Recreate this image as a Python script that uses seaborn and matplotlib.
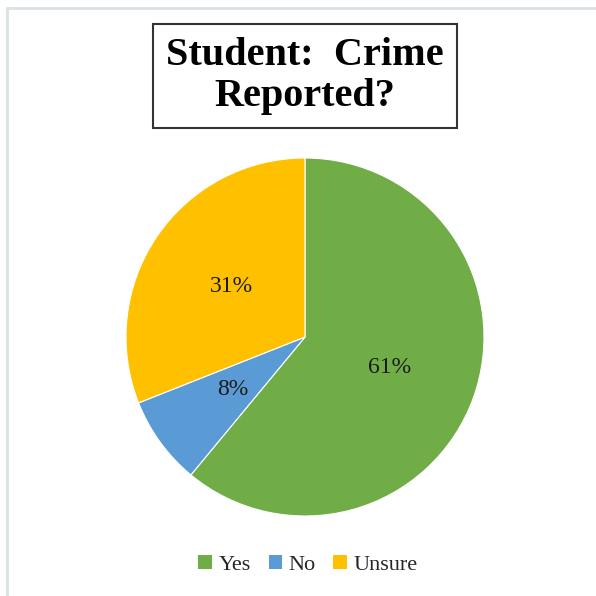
import matplotlib
matplotlib.use("Agg")
import matplotlib.pyplot as plt
import seaborn as sns
from matplotlib.patches import Patch
from matplotlib.lines import Line2D

sns.set_theme(style="white")
plt.rcParams['font.family'] = ['Liberation Serif', 'DejaVu Serif']

categories = ["Yes", "No", "Unsure"]
values = [61, 8, 31]
colors = ["#70AD47", "#5B9BD5", "#FFC000"]
title = "Student:  Crime\nReported?"

fig = plt.figure(figsize=(5.96, 5.96), dpi=100)
fig.patch.set_facecolor("white")

# light frame along top and left edges
fig.add_artist(Line2D([6.5/596, 6.5/596], [0, 1 - 7.5/596], color="#DCE1E6", lw=2, transform=fig.transFigure))
fig.add_artist(Line2D([6.5/596, 1], [1 - 7.5/596, 1 - 7.5/596], color="#DCE1E6", lw=2, transform=fig.transFigure))

cx, cy, r = 305/596, 1 - 337/596, 179/596
ax = fig.add_axes([cx - r, cy - r, 2*r, 2*r])
wedges, texts, autotexts = ax.pie(
    values, colors=colors, startangle=90, counterclock=False,
    autopct=lambda p: f"{p:.0f}%", pctdistance=0.5,
    wedgeprops=dict(edgecolor="white", linewidth=0.8),
    textprops=dict(fontsize=17, color="#1a1a1a"),
)
ax.set_xlim(-1, 1)
ax.set_ylim(-1, 1)
ax.set_aspect("equal")
ax.axis("off")

fig.text(305/596, 1 - 76/596, title, ha="center", va="center",
         fontsize=29, fontweight="bold", color="black", linespacing=1.15,
         bbox=dict(boxstyle="square,pad=0.32", facecolor="white", edgecolor="#333333", linewidth=1.5))

handles = [Patch(facecolor=c, edgecolor="none") for c in colors]
fig.legend(handles, categories, loc="center", bbox_to_anchor=(308/596, 1 - 565/596),
           ncol=3, frameon=False, fontsize=16, handlelength=0.6, handleheight=0.6,
           handletextpad=0.3, columnspacing=0.8)

fig.savefig("out.png", dpi=100, facecolor="white")
